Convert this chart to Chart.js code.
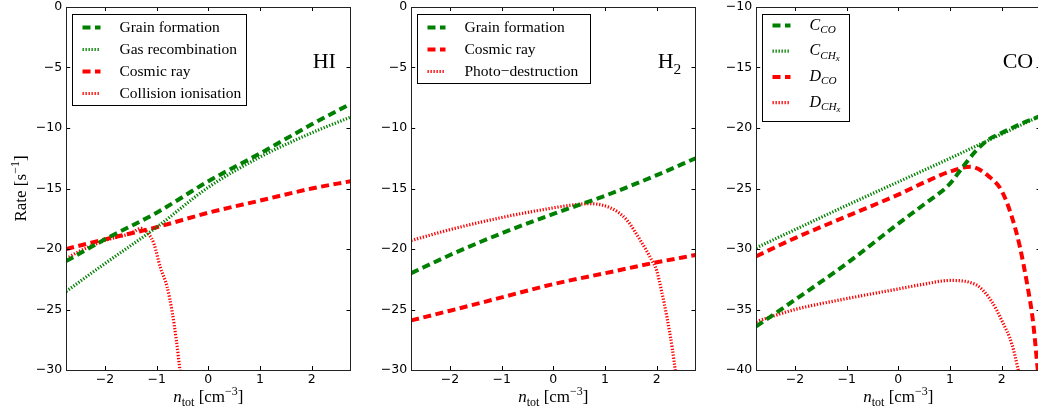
<!doctype html>
<html>
<head>
<meta charset="utf-8">
<title>Rates</title>
<script src="https://cdn.jsdelivr.net/npm/chart.js@4.4.1/dist/chart.umd.min.js"></script>
<style>
body { margin: 0; width: 1038px; height: 414px; overflow: hidden; background: #fff; position: relative; }
canvas { position: absolute; top: -20px; }
</style>
</head>
<body>
<canvas id="cHI" width="355" height="454" style="left:0px"></canvas>
<canvas id="cH2" width="355" height="454" style="left:345px"></canvas>
<canvas id="cCO" width="355" height="454" style="left:690px"></canvas>
<script>
// x values shared by the straight-ish curves
var xLin = [-2.75, -2, -1, 0, 1, 2, 2.75];

// HI panel
var hiGrain  = [-21.0, -19.2, -17.0, -14.4, -12.1, -9.7, -8.0];
var hiGasRec = [-23.5, -21.2, -18.2, -14.9, -12.4, -10.4, -9.1];
var hiCosmic = [-20.0, -19.2, -18.2, -17.0, -16.0, -15.0, -14.4];
var hiCollX  = [-2.75, -2.5, -2, -1.5, -1.3, -1.15, -1.05, -0.93, -0.8, -0.7, -0.62, -0.55, -0.48];
var hiColl   = [-20.8, -20.2, -19.3, -18.7, -18.3, -18.8, -19.6, -21.5, -23.1, -25.2, -27.5, -30.0, -32.5];

// H2 panel
var h2Grain  = [-22.0, -20.5, -18.7, -17.1, -15.6, -13.9, -12.5];
var h2Cosmic = [-25.9, -25.1, -24.0, -22.9, -22.0, -21.1, -20.5];
var h2PhotoX = [-2.75, -2, -1, 0, 0.4, 0.7, 1.1, 1.4, 1.7, 1.9, 2.0, 2.1, 2.2, 2.3, 2.37, 2.45];
var h2Photo  = [-19.3, -18.4, -17.4, -16.6, -16.35, -16.25, -16.6, -17.5, -19.4, -20.9, -21.8, -23.6, -25.7, -28.2, -30.5, -34.0];

// CO panel
var coCcoX  = [-2.75, -2, -1, 0, 0.5, 1, 1.25, 1.5, 1.73, 2, 2.4, 2.75];
var coCco   = [-36.4, -34.2, -31.2, -27.9, -26.3, -24.6, -23.2, -21.9, -21.0, -20.4, -19.6, -19.0];
var coCchx  = [-29.9, -28.4, -26.4, -24.45, -22.5, -20.5, -19.0];
var coDcoX  = [-2.75, -2, -1, 0, 0.5, 1, 1.4, 1.75, 2, 2.2, 2.35, 2.5, 2.6, 2.68, 2.75];
var coDco   = [-30.6, -29.1, -27.3, -25.5, -24.5, -23.6, -23.2, -24.0, -25.2, -27.4, -29.8, -33.1, -35.8, -39.2, -42.5];
var coDchxX = [-2.75, -2, -1, 0, 0.5, 1, 1.5, 1.8, 2, 2.2, 2.32, 2.4];
var coDchx  = [-36.0, -35.0, -34.1, -33.3, -32.9, -32.6, -32.95, -34.3, -35.9, -37.9, -40.0, -41.5];

var GREEN = '#008000', RED = '#ff0000';
var SERIF = "'Liberation Serif', 'Times New Roman', serif";

function series(label, xs, ys, color, style) {
    var dash = style == 'dash';
    return {
        label: label,
        data: xs.map(function (x, i) { return { x: x, y: ys[i] }; }),
        borderColor: color,
        backgroundColor: color,
        borderWidth: dash ? 4 : 3.2,
        borderDash: dash ? [8, 4.5] : [1.3, 1.7],
        borderCapStyle: 'butt',
        pointRadius: 0,
        cubicInterpolationMode: 'monotone',
        fill: false,
        clip: 0
    };
}

function minus(v) { return v < 0 ? '\u2212' + Math.abs(v) : String(v); }

// "C_CH_x" -> C, sub CH, subsub x
function richParts(label, size, italic) {
    var bits = label.split('_');
    var out = [];
    var style = italic ? 'italic ' : '';
    for (var i = 0; i < bits.length; i++) {
        var s = i == 0 ? size : (i == 1 ? size * 0.7 : size * 0.55);
        var dy = i == 0 ? 0 : (i == 1 ? size * 0.28 : size * 0.45);
        out.push({ t: bits[i], font: style + s + 'px ' + SERIF, dy: dy });
    }
    return out;
}

function richWidth(ctx, parts) {
    var w = 0;
    parts.forEach(function (p) { ctx.font = p.font; w += ctx.measureText(p.t).width; });
    return w;
}

function drawRich(ctx, parts, x, y) {
    parts.forEach(function (p) {
        ctx.font = p.font;
        ctx.fillText(p.t, x, y + (p.dy || 0));
        x += ctx.measureText(p.t).width;
    });
    return x;
}

var mplPanel = {
    id: 'mplPanel',
    afterDraw: function (chart, args, o) {
        var ctx = chart.ctx, a = chart.chartArea;
        var xs = chart.scales.x, ys = chart.scales.y;
        ctx.save();
        ctx.strokeStyle = '#000';
        ctx.lineWidth = 1;
        ctx.setLineDash([]);

        // inward ticks on all four sides
        ctx.beginPath();
        xs.ticks.forEach(function (t) {
            var px = Math.round(xs.getPixelForValue(t.value)) + 0.5;
            ctx.moveTo(px, a.bottom); ctx.lineTo(px, a.bottom - 4);
            ctx.moveTo(px, a.top); ctx.lineTo(px, a.top + 4);
        });
        ys.ticks.forEach(function (t) {
            var py = Math.round(ys.getPixelForValue(t.value)) + 0.5;
            ctx.moveTo(a.left, py); ctx.lineTo(a.left + 4, py);
            ctx.moveTo(a.right, py); ctx.lineTo(a.right - 4, py);
        });
        ctx.stroke();

        // frame
        ctx.strokeStyle = '#222';
        ctx.strokeRect(Math.round(a.left) + 0.5, Math.round(a.top) + 0.5,
            Math.round(a.right - a.left), Math.round(a.bottom - a.top));

        // legend box
        var L = o.legend;
        var bx = Math.round(a.left) + 6.5, by = Math.round(a.top) + 7.5;
        ctx.fillStyle = '#fff';
        ctx.fillRect(bx, by, L.w, L.h);
        ctx.strokeStyle = '#000';
        ctx.strokeRect(bx, by, L.w, L.h);
        chart.data.datasets.forEach(function (ds, i) {
            var cy = by + L.first + i * L.rowH;
            ctx.strokeStyle = ds.borderColor;
            ctx.lineWidth = ds.borderWidth;
            ctx.setLineDash(ds.borderDash);
            ctx.lineCap = 'butt';
            ctx.beginPath();
            ctx.moveTo(bx + 10, cy);
            ctx.lineTo(bx + 28, cy);
            ctx.stroke();
            ctx.setLineDash([]);
            ctx.fillStyle = '#000';
            ctx.textBaseline = 'middle';
            ctx.textAlign = 'left';
            drawRich(ctx, richParts(ds.label, L.size, L.italic), bx + 47, cy);
        });

        // species label
        ctx.fillStyle = '#000';
        ctx.textBaseline = 'alphabetic';
        drawRich(ctx, richParts(o.species, 22, false), a.left + 246.5, a.top + 61);

        // x axis title: n_tot [cm^-3]
        var xt = [
            { t: 'n', font: 'italic 17px ' + SERIF, dy: 0 },
            { t: 'tot', font: '12px ' + SERIF, dy: 4 },
            { t: ' [cm', font: '17px ' + SERIF, dy: 0 },
            { t: '\u22123', font: '12px ' + SERIF, dy: -7 },
            { t: ']', font: '17px ' + SERIF, dy: 0 }
        ];
        var w = richWidth(ctx, xt);
        drawRich(ctx, xt, (a.left + a.right) / 2 - w / 2, a.bottom + 32);

        // y axis title
        if (o.yTitle) {
            var yt = [
                { t: 'Rate [s', font: '17px ' + SERIF, dy: 0 },
                { t: '\u22121', font: '12px ' + SERIF, dy: -7 },
                { t: ']', font: '17px ' + SERIF, dy: 0 }
            ];
            var wy = richWidth(ctx, yt);
            ctx.translate(a.left - 40, (a.top + a.bottom) / 2);
            ctx.rotate(-Math.PI / 2);
            drawRich(ctx, yt, -wy / 2, 0);
        }
        ctx.restore();
    }
};

function makeChart(id, datasets, yMin, yMax, panelOpts) {
    var tickFont = { family: "'DejaVu Sans', sans-serif", size: 12.5 };
    return new Chart(document.getElementById(id), {
        type: 'line',
        data: { datasets: datasets },
        options: {
            responsive: false,
            animation: false,
            events: [],
            layout: { padding: { left: 0, right: 4.5, top: 27, bottom: 20 } },
            plugins: {
                legend: { display: false },
                tooltip: { enabled: false },
                mplPanel: panelOpts
            },
            scales: {
                x: {
                    type: 'linear', min: -2.75, max: 2.75,
                    afterFit: function (s) { s.height = 44; },
                    grid: { display: false, drawTicks: false },
                    border: { display: false },
                    ticks: { stepSize: 1, includeBounds: false, padding: 2, color: '#000', font: tickFont, maxRotation: 0, callback: minus }
                },
                y: {
                    type: 'linear', min: yMin, max: yMax,
                    afterFit: function (s) { s.width = 66.2; },
                    grid: { display: false, drawTicks: false },
                    border: { display: false },
                    ticks: { stepSize: 5, includeBounds: false, padding: 4, color: '#000', font: tickFont, callback: minus }
                }
            }
        },
        plugins: [mplPanel]
    });
}

makeChart('cHI', [
    series('Grain formation', xLin, hiGrain, GREEN, 'dash'),
    series('Gas recombination', xLin, hiGasRec, GREEN, 'dot'),
    series('Cosmic ray', xLin, hiCosmic, RED, 'dash'),
    series('Collision ionisation', hiCollX, hiColl, RED, 'dot')
], -30, 0, { species: 'HI', yTitle: true, legend: { w: 174, h: 91, first: 13, rowH: 22, size: 15.5, italic: false } });

makeChart('cH2', [
    series('Grain formation', xLin, h2Grain, GREEN, 'dash'),
    series('Cosmic ray', xLin, h2Cosmic, RED, 'dash'),
    series('Photo\u2212destruction', h2PhotoX, h2Photo, RED, 'dot')
], -30, 0, { species: 'H_2', yTitle: false, legend: { w: 173, h: 69, first: 13, rowH: 22, size: 15.5, italic: false } });

makeChart('cCO', [
    series('C_CO', coCcoX, coCco, GREEN, 'dash'),
    series('C_CH_x', xLin, coCchx, GREEN, 'dot'),
    series('D_CO', coDcoX, coDco, RED, 'dash'),
    series('D_CH_x', coDchxX, coDchx, RED, 'dot')
], -40, -10, { species: 'CO', yTitle: false, legend: { w: 87, h: 107, first: 11, rowH: 25.7, size: 16, italic: true } });
</script>
</body>
</html>
